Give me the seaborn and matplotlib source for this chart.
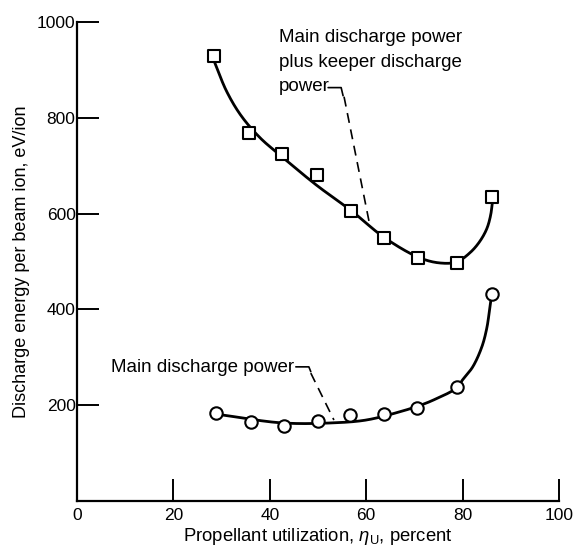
import numpy as np
import pandas as pd
import matplotlib
matplotlib.use("Agg")
import matplotlib.pyplot as plt
import seaborn as sns

# ---- data ----
util_sq = [28.5, 35.6, 42.5, 49.8, 56.9, 63.75, 70.8, 78.75, 86.0]
energy_sq = [928, 769, 725, 681, 606, 548, 508, 497, 635]

util_ci = [28.75, 36.0, 42.9, 50.0, 56.7, 63.75, 70.6, 78.75, 86.0]
energy_ci = [184, 165, 157, 167, 180, 182, 194, 238, 433]

# faired curves (knots)
curve_up_x = [28.5, 31.0, 34.0, 38.0, 42.5, 49.6, 56.9, 63.75, 71.0, 75.2, 78.75,
              81.5, 83.5, 85.0, 85.8, 86.2]
curve_up_y = [917, 856, 805, 758, 719, 660, 606, 550, 508, 497, 499,
              518, 541, 568, 596, 625]

curve_lo_x = [29.8, 42.5, 52.9, 60.0, 66.9, 71.0, 74.0, 78.75, 80.0, 82.1, 84.0,
              85.0, 85.5, 85.9]
curve_lo_y = [180, 163, 163, 169, 186, 199, 211, 236, 253, 280, 322,
              360, 392, 422]

x_ticks = [0, 20, 40, 60, 80, 100]
y_ticks = [200, 400, 600, 800, 1000]

label_upper = ["Main discharge power", "plus keeper discharge", "power"]
label_lower = "Main discharge power"

SX, SY = 4.8, 0.4785  # pixel per unit, used to smooth in screen-like space


def smooth(xs, ys, n=30):
    P = np.column_stack([np.asarray(xs) * SX, np.asarray(ys) * SY])
    P = np.vstack([2 * P[0] - P[1], P, 2 * P[-1] - P[-2]])
    out = []
    for i in range(len(P) - 3):
        p0, p1, p2, p3 = P[i], P[i + 1], P[i + 2], P[i + 3]
        t0 = 0.0
        t1 = t0 + np.linalg.norm(p1 - p0) ** 0.5
        t2 = t1 + np.linalg.norm(p2 - p1) ** 0.5
        t3 = t2 + np.linalg.norm(p3 - p2) ** 0.5
        t = np.linspace(t1, t2, n)[:, None]
        A1 = (t1 - t) / (t1 - t0) * p0 + (t - t0) / (t1 - t0) * p1
        A2 = (t2 - t) / (t2 - t1) * p1 + (t - t1) / (t2 - t1) * p2
        A3 = (t3 - t) / (t3 - t2) * p2 + (t - t2) / (t3 - t2) * p3
        B1 = (t2 - t) / (t2 - t0) * A1 + (t - t0) / (t2 - t0) * A2
        B2 = (t3 - t) / (t3 - t1) * A2 + (t - t1) / (t3 - t1) * A3
        C = (t2 - t) / (t2 - t1) * B1 + (t - t1) / (t2 - t1) * B2
        out.append(C if i == 0 else C[1:])
    C = np.vstack(out)
    return C[:, 0] / SX, C[:, 1] / SY


sns.set_theme(style="ticks")
plt.rcParams["font.family"] = ["Liberation Sans", "DejaVu Sans"]
plt.rcParams["mathtext.fontset"] = "custom"
plt.rcParams["mathtext.rm"] = "Liberation Sans"
plt.rcParams["mathtext.it"] = "Liberation Sans:italic"
plt.rcParams["text.color"] = "black"
plt.rcParams["axes.labelcolor"] = "black"
plt.rcParams["xtick.color"] = "black"
plt.rcParams["ytick.color"] = "black"
plt.rcParams["axes.edgecolor"] = "black"

fig = plt.figure(figsize=(5.73, 5.58), dpi=100)
ax = fig.add_axes([0.1344, 0.1022, 0.8412, 0.8584])

ux, uy = smooth(curve_up_x, curve_up_y)
lx, ly = smooth(curve_lo_x, curve_lo_y)
df_up = pd.DataFrame({"x": ux, "y": uy})
df_lo = pd.DataFrame({"x": lx, "y": ly})
sns.lineplot(data=df_up, x="x", y="y", sort=False, color="black", lw=2.0, ax=ax, estimator=None)
sns.lineplot(data=df_lo, x="x", y="y", sort=False, color="black", lw=2.0, ax=ax, estimator=None)

sns.scatterplot(x=util_sq, y=energy_sq, marker="s", s=70, facecolor="white",
                edgecolor="black", linewidth=1.5, ax=ax, zorder=5)
sns.scatterplot(x=util_ci, y=energy_ci, marker="o", s=80, facecolor="white",
                edgecolor="black", linewidth=1.5, ax=ax, zorder=5)

ax.set_xlim(0, 100)
ax.set_ylim(0, 1000)
ax.set_xticks(x_ticks)
ax.set_yticks(y_ticks)
ax.set_xticklabels([str(v) for v in x_ticks])
ax.set_yticklabels([str(v) for v in y_ticks])
sns.despine(ax=ax)
ax.spines["left"].set_linewidth(1.6)
ax.spines["bottom"].set_linewidth(1.6)
ax.tick_params(axis="both", direction="in", length=16, width=1.4, labelsize=12.5,
               color="black", labelcolor="black")
ax.tick_params(axis="y", pad=1)
ax.tick_params(axis="x", pad=5)

ax.set_xlabel(r"Propellant utilization, $\eta_{\rm U}$, percent", fontsize=13.3, labelpad=2)
ax.set_ylabel("Discharge energy per beam ion, eV/ion", fontsize=13, labelpad=5)

# annotations
for line, yb in zip(label_upper, [959, 905, 855]):
    ax.text(41.9, yb, line, ha="left", va="baseline", fontsize=13.5)
ax.text(7.1, 270, label_lower, ha="left", va="baseline", fontsize=13.5)

ax.plot([52.1, 54.8, 55.2], [863, 863, 846], color="black", lw=1.2)
ax.plot([55.4, 60.6], [844, 583], color="black", lw=1.2, ls=(0, (6, 4)))
ax.plot([45.4, 48.1, 48.5], [280, 280, 270], color="black", lw=1.2)
ax.plot([48.5, 53.3], [267, 169], color="black", lw=1.2, ls=(0, (6, 4)))

fig.savefig("out.png", dpi=100)
